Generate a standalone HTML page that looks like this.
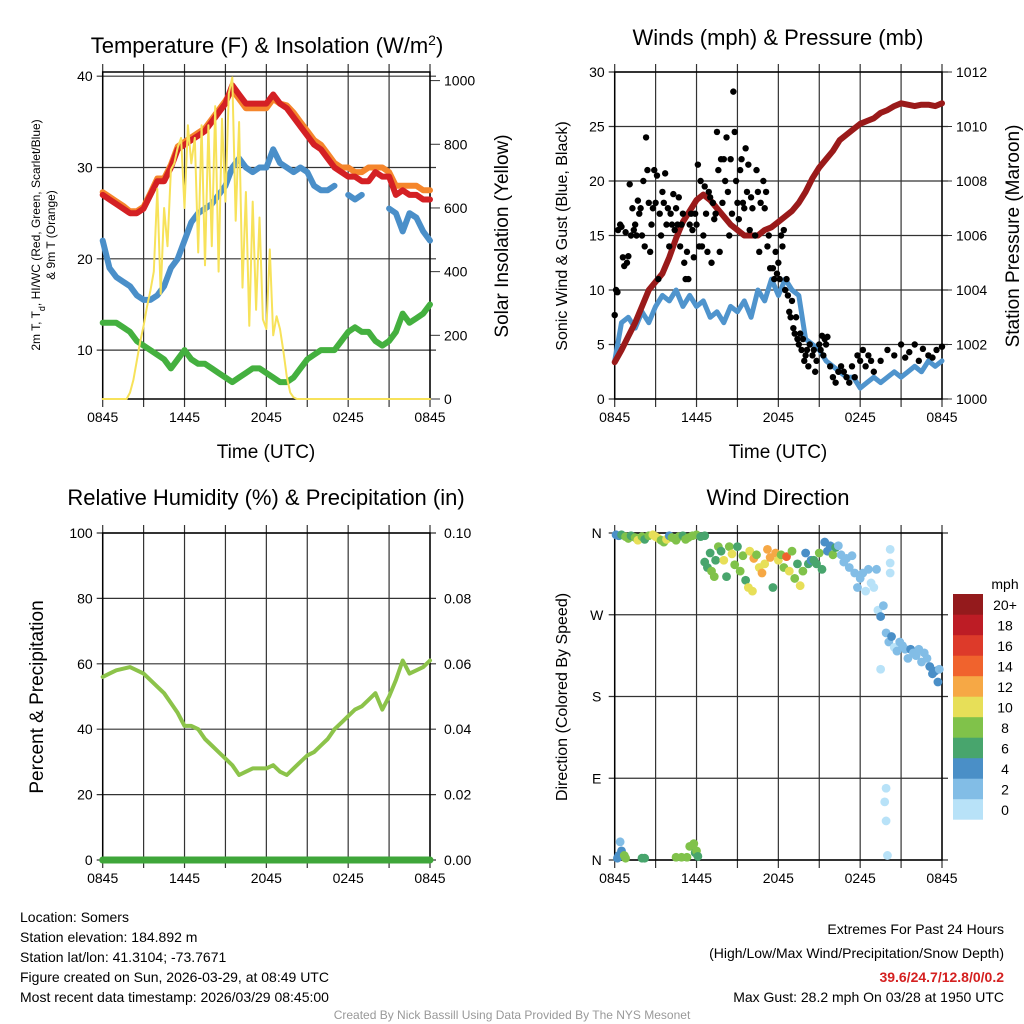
<!DOCTYPE html>
<html><head><meta charset="utf-8"><style>
html,body{margin:0;padding:0;background:#fff;}
svg{display:block;font-family:"Liberation Sans",Arial,sans-serif;}
</style></head><body>
<svg id="root" width="1024" height="1024" viewBox="0 0 1024 1024" xmlns="http://www.w3.org/2000/svg">
<rect x="0" y="0" width="1024" height="1024" fill="#fff"/>
<text x="267" y="53" font-size="22" text-anchor="middle">Temperature (F) &amp; Insolation (W/m<tspan baseline-shift="super" font-size="14">2</tspan>)</text>
<text x="778" y="45" font-size="22" text-anchor="middle">Winds (mph) &amp; Pressure (mb)</text>
<text x="266" y="505" font-size="22" text-anchor="middle">Relative Humidity (%) &amp; Precipitation (in)</text>
<text x="778" y="505" font-size="22" text-anchor="middle">Wind Direction</text>
<text x="266" y="458" font-size="19" text-anchor="middle">Time (UTC)</text>
<text x="778" y="458" font-size="19" text-anchor="middle">Time (UTC)</text>
<g font-size="12" text-anchor="middle" transform="translate(0,235) rotate(-90)">
<text x="0" y="40">2m T, T<tspan baseline-shift="sub" font-size="9">d</tspan>, HI/WC (Red, Green, Scarlet/Blue)</text>
<text x="0" y="55">&amp; 9m T (Orange)</text></g>
<text transform="translate(508,236) rotate(-90)" font-size="19" text-anchor="middle">Solar Insolation (Yellow)</text>
<text transform="translate(567,236) rotate(-90)" font-size="16" text-anchor="middle">Sonic Wind &amp; Gust (Blue, Black)</text>
<text transform="translate(1019,236) rotate(-90)" font-size="19" text-anchor="middle">Station Pressure (Maroon)</text>
<text transform="translate(43,697) rotate(-90)" font-size="19" text-anchor="middle">Percent &amp; Precipitation</text>
<text transform="translate(567,697) rotate(-90)" font-size="16" text-anchor="middle">Direction (Colored By Speed)</text>
<text x="1005" y="589" font-size="14" text-anchor="middle">mph</text>
<g font-size="14">
<text x="20" y="922">Location: Somers</text>
<text x="20" y="942">Station elevation: 184.892 m</text>
<text x="20" y="962">Station lat/lon: 41.3104; -73.7671</text>
<text x="20" y="982">Figure created on Sun, 2026-03-29, at 08:49 UTC</text>
<text x="20" y="1002">Most recent data timestamp: 2026/03/29 08:45:00</text></g>
<g font-size="14" text-anchor="end">
<text x="1004" y="934">Extremes For Past 24 Hours</text>
<text x="1004" y="958">(High/Low/Max Wind/Precipitation/Snow Depth)</text>
<text x="1004" y="982" fill="#d42020" font-weight="bold">39.6/24.7/12.8/0/0.2</text>
<text x="1004" y="1002">Max Gust: 28.2 mph On 03/28 at 1950 UTC</text></g>
<text x="512" y="1019" font-size="12" fill="#999" text-anchor="middle">Created By Nick Bassill Using Data Provided By The NYS Mesonet</text>
</svg>
<script>
// ---- data (30-min steps from 0845 UTC unless noted) ----
const timeLabels=["0845","1445","2045","0245","0845"];
const tempRed=[27,26.5,26,25.5,25,25,25.5,27,28.5,28.5,30,32,32.5,33,33.5,34,35,36,37,39,38,37,37,37,37,38,37,36.5,35.5,34.5,33.5,32.5,32,31,30,29.5,29,29,28.5,28.5,29.5,29,29,27,27.5,27,27,26.5,26.5];
const tempOrange=[27.3,26.8,26.3,25.8,25.2,25.2,25.7,27.2,28.8,28.8,30.3,32.3,32.8,33.3,33.8,34.3,35.3,36.3,37.3,38.5,37.5,36.5,36.5,36.5,36.5,37.5,37,36.8,36,35,34,33,32.5,31.5,30.5,30,30,29.5,29.5,30,30,30,29.5,28,28,28,28,27.5,27.5];
const dewBlue=[22,19,18,17.5,17,16,15.5,15.5,16,17,19,20,22,24,25,25.5,26,27,28,30,31,30,29.5,30,30,32,30.5,30,29.5,30,29.5,28,27.5,27.5,28,null,27,26.5,27,null,null,null,25.5,25,23,25,24.5,23,22];
const tempGreen=[13,13,13,12.5,12,11,10.5,10,9.5,9,8,9,10,9,8.5,8.5,8,7.5,7,6.5,7,7.5,8,8,7.5,7,6.5,6.5,7,8,9,9.5,10,10,10,11,12,12.5,12,12,11,10.5,11,12,14,13,13.5,14,15];
// insolation: 15-min steps
const insolation=[0,0,0,0,0,0,0,0,20,60,120,180,230,290,340,400,660,330,600,480,720,740,790,820,600,860,740,820,460,860,420,860,480,920,400,880,620,960,1010,560,870,350,650,230,620,280,570,250,220,470,200,260,220,150,70,20,5,0,0,0,0,0,0,0,0,0,0,0,0,0,0,0,0,0,0,0,0,0,0,0,0,0,0,0,0,0,0,0,0,0,0,0,0,0,0,0,0];
const windSonic=[3.5,7,7.5,6.5,8,7,8.5,9.5,9,10,8.5,9.5,8.5,9,7.5,8,7,8.5,8,9,7.5,10,9,11,9.5,11,10,9.5,5.5,5,4.5,3.5,3,2.5,2,2,1,1.5,2,1.5,2,2.5,2,2.5,3,2.5,3.5,3,3.5];
const pressure=[1001.35,1001.8,1002.3,1002.8,1003.4,1004.0,1004.3,1004.6,1005.2,1005.9,1006.5,1006.9,1007.3,1007.5,1007.3,1007.0,1006.7,1006.4,1006.2,1006.0,1006.0,1006.0,1006.2,1006.3,1006.5,1006.7,1006.9,1007.2,1007.6,1008.1,1008.5,1008.8,1009.1,1009.5,1009.7,1009.9,1010.1,1010.2,1010.3,1010.5,1010.6,1010.75,1010.85,1010.8,1010.75,1010.8,1010.8,1010.75,1010.85];
const gustHours=[0,0.1,0.2,0.25,0.4,0.5,0.6,0.7,0.8,0.9,1,1.1,1.2,1.3,1.4,1.5,1.6,1.7,1.8,1.9,2,2.1,2.2,2.3,2.4,2.5,2.6,2.7,2.8,2.9,3,3.1,3.2,3.3,3.4,3.5,3.6,3.7,3.8,3.9,4,4.1,4.2,4.3,4.4,4.5,4.6,4.7,4.8,4.9,5,5.1,5.2,5.3,5.4,5.5,5.6,5.7,5.8,5.9,6,6.1,6.2,6.3,6.4,6.5,6.6,6.7,6.8,6.9,7,7.1,7.2,7.3,7.4,7.5,7.6,7.7,7.8,7.9,8,8.1,8.2,8.3,8.4,8.5,8.6,8.7,8.8,8.9,9,9.1,9.2,9.3,9.4,9.5,9.6,9.7,9.8,9.9,10,10.1,10.3,10.4,10.5,10.6,10.7,10.9,11,11.1,11.2,11.3,11.4,11.6,11.7,11.8,11.9,12,12.1,12.2,12.3,12.4,12.5,12.6,12.7,12.8,12.9,13,13.1,13.2,13.3,13.4,13.5,13.6,13.7,13.8,13.9,14,14.1,14.2,14.3,14.5,14.6,14.7,14.8,15,15.1,15.2,15.3,15.4,15.5,15.6,15.8,16,16.2,16.4,16.6,16.8,17,17.2,17.4,17.6,17.8,18,18.2,18.4,18.6,18.8,19,19.5,20,20.5,21,21.3,21.6,22,22.3,22.6,23,23.3,23.6,24];
const gustValues=[7.7,10,9.8,15.5,16,15.8,13,12.2,15.3,12.5,13.1,19.7,15,17.5,15.5,16,15,18.2,17,17.5,15,20,14,24,21,18,13.5,16,17.5,21,18,20.5,11,17,15,19,18,20.7,16,17.5,14,17,16,18.8,15.5,17.5,16,18.5,14,16,17,12.5,11,13.5,11,16,17,15.5,13,17,16,21.5,14,20,14,15,19.5,17,13.5,19,18.5,12.5,18,16.5,17,24.5,21,13.5,22,18,22,20,24,19,15,22,17,28.2,24.5,20,18,16.5,21,22,18,17.5,23,19,21.5,15.5,18.5,17.5,15,21,19,13.5,18,20,17.5,19,14,15,12,12,11,13.5,11.5,12.5,11,15,14,15.5,10,11,9.5,8,7.5,9,6.5,6,7.5,5.5,5,6,4.5,5.5,3.5,4,4.5,3,5,4,4.5,2.5,3.5,5,4.5,5.8,4,5.5,5,5.7,3,2,1.5,2.5,3,2.5,2,1.5,3,2,4,3.5,4.5,3,4,3.5,2.5,3.5,4.5,4,5,3.8,4.3,5,3.5,4.6,4,3.8,4.5,4.8];
const rhValues=[56,57,58,58.5,59,58,57,55,53,51,48,45,41,41,40,37,35,33,31,29,26,27,28,28,28,29,27,26,28,30,32,33,35,37,40,42,44,46,47,49,51,46,50,55,61,57,58,59,61];
const precipValues=[0,0,0,0,0,0,0,0,0,0,0,0,0,0,0,0,0,0,0,0,0,0,0,0,0,0,0,0,0,0,0,0,0,0,0,0,0,0,0,0,0,0,0,0,0,0,0,0,0];
const dirHours=[0.1,0.3,0.5,0.8,1.0,1.2,1.5,1.7,2.0,2.2,2.5,2.8,3.0,3.2,3.4,3.6,3.8,4.0,4.2,4.5,4.7,5.0,5.2,5.4,5.7,6.0,6.3,6.6,6.6,6.8,7.0,7.1,7.3,7.4,7.6,7.8,8.0,8.2,8.4,8.6,8.8,9.0,9.2,9.4,9.6,9.8,9.9,10.1,10.2,10.4,10.6,10.8,11.0,11.2,11.4,11.6,11.8,12.0,12.2,12.4,12.6,12.8,13.0,13.2,13.4,13.6,13.8,14.0,14.2,14.4,14.6,14.8,15.0,15.2,15.4,15.6,15.8,16.0,16.2,16.4,16.6,16.8,17.0,17.2,17.4,17.6,17.8,18.0,18.2,18.4,18.6,18.8,19.0,19.2,19.3,19.5,19.7,19.9,20.1,20.3,20.5,20.7,20.9,21.1,21.3,21.5,21.7,21.9,22.1,22.3,22.5,22.7,22.9,23.1,23.3,23.5,23.7,23.8,19.9,19.8,19.9,20.0,19.5,20.2,20.2,20.2,0.2,0.3,0.4,0.5,0.8,0.7,2.0,2.2,4.5,4.9,5.3,5.5,5.8,5.9,6.0,6.1];
const dirDegrees=[358,357,358,356,354,357,355,352,356,353,357,358,356,354,352,350,353,357,355,352,356,357,353,355,357,358,356,357,328,322,338,318,312,330,345,340,330,312,345,337,325,345,318,335,308,300,340,296,332,336,322,316,326,342,333,300,338,330,336,322,334,318,340,310,326,302,318,338,326,330,330,326,338,320,350,340,346,336,344,346,336,328,332,322,335,316,300,310,316,296,320,305,300,320,275,268,280,250,240,246,234,230,240,236,232,222,232,228,225,232,218,228,222,213,205,208,196,210,79,64,43,5,210,342,327,316,2,5,20,10,2,5,2,2,3,3,3,15,18,8,10,4];
const dirSpeeds=[4,5,7,8,8,7,9,10,8,6,9,10,10,10,9,8,11,4,8,9,8,6,8,9,8,8,6,7,6,6,7,8,8,6,8,6,10,6,8,10,8,6,8,8,6,10,10,10,12,8,10,12,10,12,12,6,12,10,8,8,14,10,8,8,6,10,8,4,6,4,6,6,8,6,4,4,4,8,6,2,2,2,2,2,2,2,2,2,2,0,2,0,0,2,0,4,2,2,2,4,0,2,2,2,2,2,4,2,2,2,2,2,2,4,4,4,4,2,0,0,0,0,0,0,0,0,4,4,2,4,8,8,6,6,8,8,8,8,8,6,8,6];
const speedBinLabels=["0","2","4","6","8","10","12","14","16","18","20+"];
const speedColors=["#b8e2f8","#82bde6","#4a8fc7","#48a56d","#80c24a","#e7df58","#f6a845","#f0632d","#dd3a2a","#bd1c25","#941a1c"];

// ---- drawing ----
const NS="http://www.w3.org/2000/svg";
const root=document.getElementById('root');
function mk(tag,attrs,parent){const e=document.createElementNS(NS,tag);for(const k in attrs)e.setAttribute(k,attrs[k]);(parent||root).appendChild(e);return e;}
const P1={x0:102.7,x1:430,y0:72,y1:399},P2={x0:614.7,x1:942,y0:72,y1:399},P3={x0:102.7,x1:430,y0:533,y1:860},P4={x0:614.7,x1:942,y0:533,y1:860};
function xs(p,h){return p.x0+(p.x1-p.x0)*h/24;}
function ys(p,v,lo,hi){return p.y1-(p.y1-p.y0)*(v-lo)/(hi-lo);}
function frame(p,name){
  const g=mk('g',{});
  
  
  for(let k=0;k<=8;k++){const x=xs(p,k*3);
    const l=mk('line',{x1:x,x2:x,y1:p.y0-8,y2:p.y1+8,stroke:'#333','stroke-width':1.2},g);
    
    }
  timeLabels.forEach((t,k)=>{const tx=mk('text',{x:xs(p,k*6),y:p.y1+23,'font-size':14,'text-anchor':'middle'},g);tx.textContent=t;
    
    });
  return g;
}
function hgrid(p,g,y){const l=mk('line',{x1:p.x0-6,x2:p.x1+6,y1:y,y2:y,stroke:'#333','stroke-width':1.2},g);
  
  }
function label(g,x,y,t,anchor,name){const tx=mk('text',{x:x,y:y+5,'font-size':14,'text-anchor':anchor},g);tx.textContent=t;
  
  }
function border(p,g){const r=mk('rect',{x:p.x0,y:p.y0,width:p.x1-p.x0,height:p.y1-p.y0,fill:'none',stroke:'#000','stroke-width':1.5},g);
  
  }
function line(p,arr,step,lo,hi,color,w,name){
  let d='',pen=false;
  arr.forEach((v,i)=>{if(v===null){pen=false;return;}const x=xs(p,i*step),y=ys(p,v,lo,hi);d+=(pen?'L':'M')+x.toFixed(1)+','+y.toFixed(1);pen=true;});
  const e=mk('path',{d:d,fill:'none',stroke:color,'stroke-width':w,'stroke-linejoin':'round','stroke-linecap':'round'});
  
  
  return e;
}
// Plot 1
const TL=4.65,TH=40.46,IH=1027;
const g1=frame(P1,'temperature-panel');
[10,20,30,40].forEach(v=>{const y=ys(P1,v,TL,TH);hgrid(P1,g1,y);label(g1,P1.x0-10,y,String(v),'end','temp-y-tick');});
[0,200,400,600,800,1000].forEach(v=>{const y=ys(P1,v,0,IH);mk('line',{x1:P1.x1,x2:P1.x1+10,y1:y,y2:y,stroke:'#333'},g1);label(g1,P1.x1+14,y,String(v),'start','insolation-y-tick');});
border(P1,g1);
line(P1,tempOrange,0.5,TL,TH,'#f5862c',6,'9m-temp-line');
line(P1,tempRed,0.5,TL,TH,'#d42024',6,'2m-temp-line');
line(P1,dewBlue,0.5,TL,TH,'#4a8fc9',6,'dewpoint-line');
line(P1,tempGreen,0.5,TL,TH,'#44b03f',6,'wind-chill-line');
line(P1,insolation,0.25,0,IH,'#f7e25a',2,'insolation-line');
// Plot 2
const g2=frame(P2,'winds-panel');
[0,5,10,15,20,25,30].forEach(v=>{const y=ys(P2,v,0,30);hgrid(P2,g2,y);label(g2,P2.x0-10,y,String(v),'end','wind-y-tick');});
[1000,1002,1004,1006,1008,1010,1012].forEach(v=>{const y=ys(P2,v,1000,1012);mk('line',{x1:P2.x1,x2:P2.x1+10,y1:y,y2:y,stroke:'#333'},g2);label(g2,P2.x1+14,y,String(v),'start','pressure-y-tick');});
border(P2,g2);
line(P2,windSonic,0.5,0,30,'#4f94cd',5,'sonic-wind-line');
line(P2,pressure,0.5,1000,1012,'#9a1a1a',6,'pressure-line');
gustHours.forEach((h,i)=>{const c=mk('circle',{cx:xs(P2,h),cy:ys(P2,gustValues[i],0,30),r:3.2,fill:'#000'});
  
  });
// Plot 3
const g3=frame(P3,'humidity-panel');
[0,20,40,60,80,100].forEach((v,k)=>{const y=ys(P3,v,0,100);hgrid(P3,g3,y);label(g3,P3.x0-10,y,String(v),'end','rh-y-tick');label(g3,P3.x1+14,y,(k*0.02).toFixed(2),'start','precip-y-tick');});
border(P3,g3);
line(P3,rhValues,0.5,0,100,'#8cc34a',4,'rh-line');
line(P3,precipValues,0.5,0,0.1,'#3fa63a',7,'precip-line');
// Plot 4
const g4=frame(P4,'wind-direction-panel');
['N','E','S','W','N'].forEach((t,k)=>{const y=ys(P4,k*90,0,360);hgrid(P4,g4,y);label(g4,P4.x0-18,y,t,'middle','direction-y-tick');});
border(P4,g4);
dirHours.forEach((h,i)=>{const b=Math.min(10,Math.floor(dirSpeeds[i]/2));
  const c=mk('circle',{cx:xs(P4,h),cy:ys(P4,dirDegrees[i],0,360),r:4.4,fill:speedColors[b]});
  
  });
// colorbar
speedColors.forEach((col,k)=>{const y=594+(10-k)*20.5;
  const r=mk('rect',{x:953,y:y,width:30,height:20.7,fill:col});
  
  
  const t=mk('text',{x:1005,y:y+16,'font-size':14,'text-anchor':'middle'});t.textContent=speedBinLabels[k];
  
  });
</script>
</body></html>
